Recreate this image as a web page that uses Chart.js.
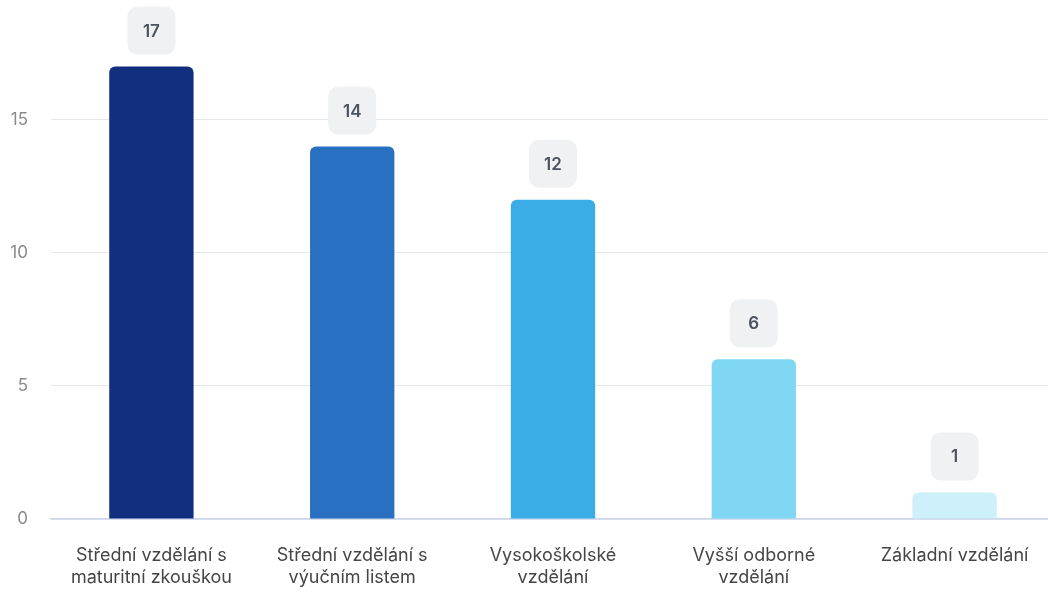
<!DOCTYPE html>
<html>
<head>
<meta charset="utf-8">
<script src="https://cdn.jsdelivr.net/npm/chart.js@4"></script>
<style>
  html, body { margin: 0; padding: 0; background: #fff; overflow: hidden; }
  #wrap { width: 1055px; height: 592px; position: relative; }
</style>
</head>
<body>
<div id="wrap"><canvas id="barchart"></canvas></div>
<script>
  const categories = [
    ['Střední vzdělání s', 'maturitní zkouškou'],
    ['Střední vzdělání s', 'výučním listem'],
    ['Vysokoškolské', 'vzdělání'],
    ['Vyšší odborné', 'vzdělání'],
    'Základní vzdělání'
  ];
  const values = [17, 14, 12, 6, 1];
  const tickValues = [0, 5, 10, 15];
  const barColors = ['#112f7e', '#2a70c2', '#3badE6', '#80d7f3', '#cdf0fa'];

  // value bubbles above each bar
  const bubbles = {
    id: 'bubbles',
    afterDatasetsDraw(chart) {
      const c = chart.ctx;
      const meta = chart.getDatasetMeta(0);
      c.save();
      c.font = '600 17px Inter';
      c.textAlign = 'center';
      c.textBaseline = 'middle';
      meta.data.forEach((bar, i) => {
        const w = 48, h = 48;
        const x = bar.x - w / 2;
        const y = bar.y - 12 - h;
        c.fillStyle = '#f0f1f2';
        c.beginPath();
        c.roundRect(x, y, w, h, 10);
        c.fill();
        c.fillStyle = '#4b5360';
        c.fillText(String(values[i]), bar.x, y + h / 2 + 1);
      });
      c.restore();
    }
  };

  const ctx = document.getElementById('barchart').getContext('2d');

  const barchart = new Chart(ctx, {
    type: 'bar',
    data: {
      labels: categories,
      datasets: [{
        data: values,
        backgroundColor: barColors,
        borderRadius: 6,
        borderSkipped: 'start',
        barPercentage: 0.42,
        categoryPercentage: 1
      }]
    },
    plugins: [bubbles],
    options: {
      responsive: true,
      maintainAspectRatio: false,
      animation: false,
      layout: { padding: { left: 10, top: 40, right: 0, bottom: 0 } },
      plugins: {
        legend: { display: false },
        tooltip: { enabled: false }
      },
      scales: {
        x: {
          afterFit(axis) { axis.height = 73; },
          grid: { display: false, drawTicks: false },
          border: { color: '#c9d6ee', width: 1.5 },
          ticks: {
            color: '#454545',
            font: { family: 'Inter', size: 18 },
            padding: 26,
            maxRotation: 0
          }
        },
        y: {
          min: 0,
          max: 18,
          afterFit(axis) { axis.width = 41; },
          afterBuildTicks(axis) {
            axis.ticks = tickValues.map(v => ({ value: v }));
          },
          grid: { color: '#e6e7e9', drawTicks: false },
          border: { display: false },
          ticks: {
            color: '#8a8a8a',
            font: { family: 'Inter', size: 17 },
            padding: 23
          }
        }
      }
    }
  });
</script>
</body>
</html>
